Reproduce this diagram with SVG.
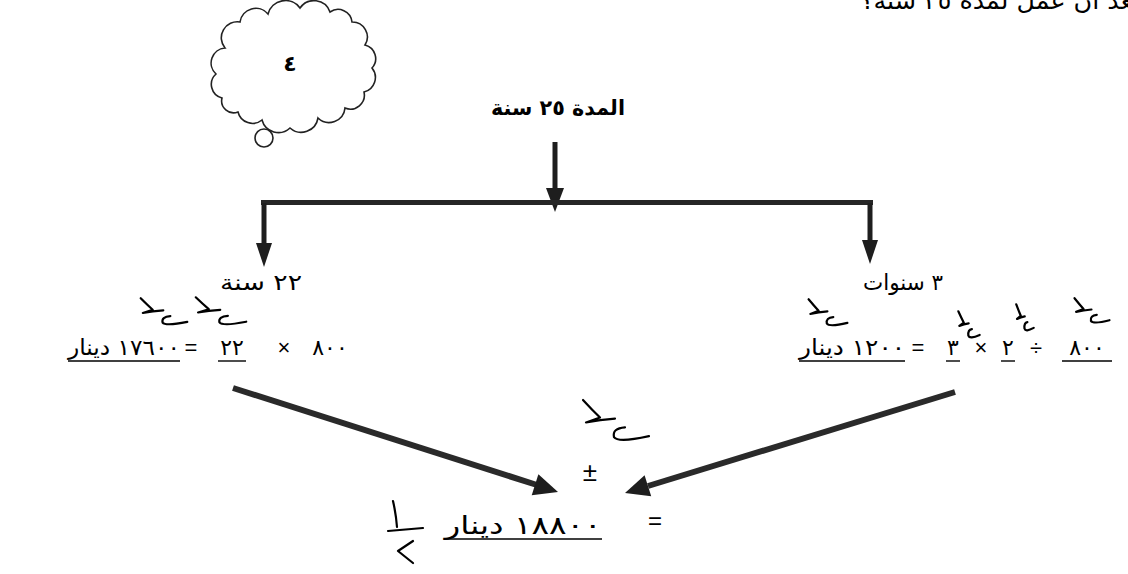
<svg xmlns="http://www.w3.org/2000/svg" xmlns:xlink="http://www.w3.org/1999/xlink" width="1128" height="574" viewBox="0 0 1128 574">
<style>
.ar{font-family:"DejaVu Sans","Noto Sans",sans-serif;fill:#000}
.b{font-weight:bold}
.sym{font-family:"Liberation Sans","DejaVu Sans",sans-serif;fill:#000}
.ul{stroke:#000;stroke-width:1.4}
.shaft{stroke:#1e1e1e;stroke-width:5;fill:none}
.head{fill:#1e1e1e}
.dshaft{stroke:#2a2a2a;stroke-width:6;fill:none}
.hw{fill:none;stroke:#000;stroke-width:2.2;stroke-linecap:round;stroke-linejoin:round}
</style>
<defs>
<symbol id="hm" viewBox="0 0 68 47" preserveAspectRatio="none" overflow="visible">
<path class="hw" vector-effect="non-scaling-stroke" d="M1,2 Q10,12 18,20 L4,25 Q18,22 33,21"/>
<path class="hw" vector-effect="non-scaling-stroke" d="M43,30 Q30,31 32,40 Q36,46 67,39"/>
</symbol>
</defs>
<rect width="1128" height="574" fill="#fff"/>

<g id="question">
<text class="ar" x="1140" y="9" font-size="24" direction="rtl" text-anchor="start" textLength="280" lengthAdjust="spacingAndGlyphs">بعد أن عمل لمدة ٢٥ سنة؟</text>
</g>

<g id="cloud">
<path fill="#fff" stroke="#222" stroke-width="1.6" d="M225,48 A16,16 0 0 1 240,22 A16,16 0 0 1 268,14 A18,18 0 0 1 300,8 A17,17 0 0 1 330,12 A14,14 0 0 1 352,22 A15,15 0 0 1 365,45 A14,14 0 0 1 372,68 A15,15 0 0 1 364,92 A14,14 0 0 1 345,108 A16,16 0 0 1 318,118 A17,17 0 0 1 290,128 A17,17 0 0 1 262,120 A15,15 0 0 1 238,112 A12,12 0 0 1 222,98 A14,14 0 0 1 216,74 A15,15 0 0 1 225,48 Z"/>
<circle cx="264" cy="138" r="9" fill="#fff" stroke="#222" stroke-width="1.6"/>
<text class="ar b" x="290" y="71" font-size="22" text-anchor="middle">٤</text>
</g>

<g id="title">
<text class="ar b" x="558" y="115" font-size="21" direction="rtl" text-anchor="middle" textLength="134" lengthAdjust="spacingAndGlyphs">المدة ٢٥ سنة</text>
</g>

<g id="connectors">
<line class="shaft" x1="555" y1="142" x2="555" y2="192"/>
<polygon class="head" points="546,188 564,188 555,212"/>
<rect x="261" y="200" width="612" height="5" fill="#262626"/>
<line class="shaft" x1="264" y1="203" x2="264" y2="247"/>
<polygon class="head" points="256,243 272,243 264,267"/>
<line class="shaft" x1="870" y1="203" x2="870" y2="244"/>
<polygon class="head" points="862,240 878,240 870,264"/>
<line class="dshaft" x1="233" y1="388" x2="537" y2="485"/>
<polygon class="head" points="558,492 531.7,495.2 538.4,474.2"/>
<line class="dshaft" x1="955" y1="392" x2="648" y2="486"/>
<polygon class="head" points="625,493 644.6,475.3 651.2,496.2"/>
</g>

<g id="left-branch">
<text class="ar" x="261" y="290" font-size="22" direction="rtl" text-anchor="middle" textLength="82" lengthAdjust="spacingAndGlyphs">٢٢ سنة</text>
<use href="#hm" x="140" y="297" width="48" height="30"/>
<use href="#hm" x="195" y="296" width="52" height="31"/>
<text class="ar" x="330" y="355" font-size="22" text-anchor="middle">٨٠٠</text>
<text class="sym" x="284" y="355" font-size="22" text-anchor="middle">×</text>
<text class="ar" x="232" y="355" font-size="22" text-anchor="middle">٢٢</text>
<line class="ul" x1="218" y1="361" x2="246" y2="361"/>
<text class="sym" x="191" y="355" font-size="22" text-anchor="middle">=</text>
<text class="ar" x="124" y="355" font-size="22" direction="rtl" text-anchor="middle" textLength="112" lengthAdjust="spacingAndGlyphs">١٧٦٠٠ دينار</text>
<line class="ul" x1="68" y1="361" x2="180" y2="361"/>
</g>

<g id="right-branch">
<text class="ar" x="903" y="290" font-size="22" direction="rtl" text-anchor="middle" textLength="80" lengthAdjust="spacingAndGlyphs">٣ سنوات</text>
<use href="#hm" x="808" y="298" width="40" height="30"/>
<use href="#hm" x="958" y="310" width="22" height="30"/>
<use href="#hm" x="1016" y="303" width="18" height="30"/>
<use href="#hm" x="1074" y="297" width="36" height="28"/>
<text class="ar" x="1087" y="355" font-size="22" text-anchor="middle">٨٠٠</text>
<line class="ul" x1="1062" y1="361" x2="1112" y2="361"/>
<text class="sym" x="1036" y="355" font-size="22" text-anchor="middle">÷</text>
<text class="ar" x="1008" y="355" font-size="22" text-anchor="middle">٢</text>
<line class="ul" x1="1001" y1="361" x2="1015" y2="361"/>
<text class="sym" x="981" y="355" font-size="22" text-anchor="middle">×</text>
<text class="ar" x="953" y="355" font-size="22" text-anchor="middle">٣</text>
<line class="ul" x1="946" y1="361" x2="960" y2="361"/>
<text class="sym" x="918" y="355" font-size="22" text-anchor="middle">=</text>
<text class="ar" x="852" y="355" font-size="22" direction="rtl" text-anchor="middle" textLength="106" lengthAdjust="spacingAndGlyphs">١٢٠٠ دينار</text>
<line class="ul" x1="799" y1="361" x2="905" y2="361"/>
</g>

<g id="result">
<use href="#hm" x="582" y="398" width="68" height="46"/>
<text class="sym" x="590" y="481" font-size="26" text-anchor="middle">±</text>
<path class="hw" d="M393,501 Q396,514 397,527 M388,531 L423,528 M413,541 L398,551 L413,563"/>
<text class="ar" x="523" y="534" font-size="25" direction="rtl" text-anchor="middle" textLength="157" lengthAdjust="spacingAndGlyphs">١٨٨٠٠ دينار</text>
<line class="ul" x1="445" y1="539" x2="602" y2="539"/>
<text class="sym" x="655" y="529" font-size="24" text-anchor="middle">=</text>
</g>
</svg>
